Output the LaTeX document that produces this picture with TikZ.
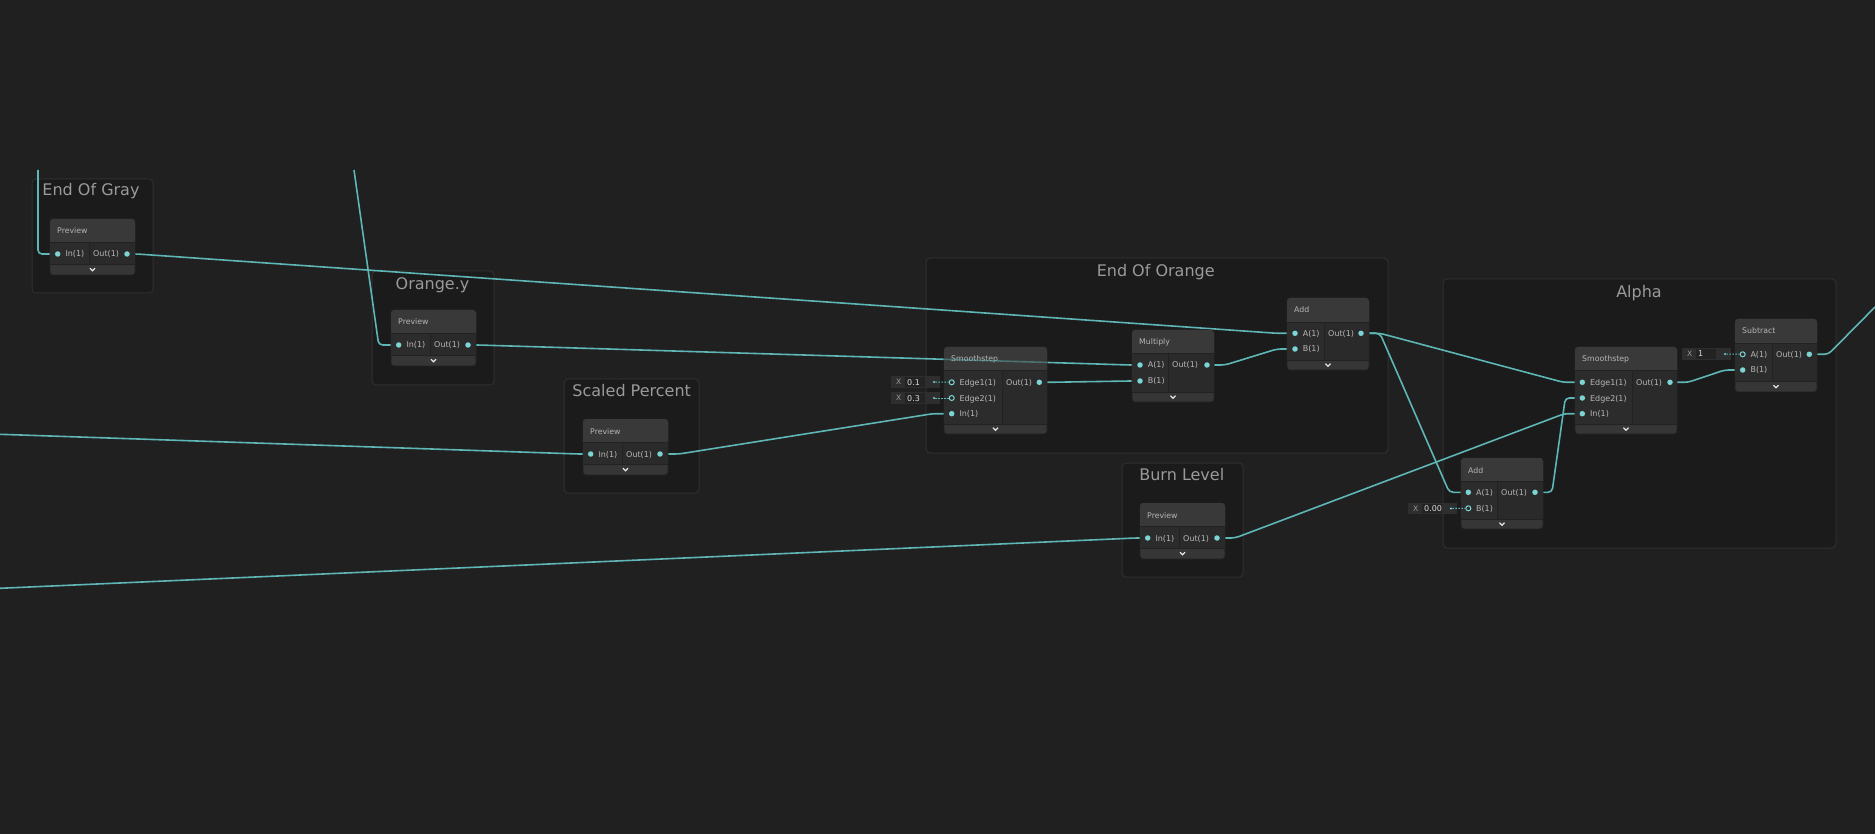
\documentclass[tikz,border=0pt]{standalone}
\usepackage{fontspec}
\setmainfont{DejaVu Sans}
\usetikzlibrary{calc}
\definecolor{bgc}{HTML}{202020}
\definecolor{grpfill}{HTML}{1B1B1B}
\definecolor{grpline}{HTML}{2F2F2F}
\definecolor{hdrc}{HTML}{393939}
\definecolor{incol}{HTML}{2C2C2C}
\definecolor{outcol}{HTML}{2A2A2A}
\definecolor{footc}{HTML}{363636}
\definecolor{sepc}{HTML}{222222}
\definecolor{wirec}{HTML}{5FB6B6}
\definecolor{portc}{HTML}{7DD4D4}
\definecolor{lbl}{HTML}{B6B6B6}
\definecolor{ttl}{HTML}{9A9A9A}
\definecolor{valbgc}{HTML}{2E2E2E}
\definecolor{valfieldc}{HTML}{232323}
\pgfdeclarelayer{back}
\pgfdeclarelayer{wires}
\pgfsetlayers{back,wires,main}
\tikzset{
 grp/.style={fill=grpfill, draw=grpline, line width=1pt, rounded corners=4pt, inner sep=0pt, outer sep=0pt},
 grptitle/.style={text=ttl, font=\fontsize{16}{18}\selectfont, inner sep=0pt, anchor=base},
 nodebox/.style={fill=footc, draw=sepc, line width=0.8pt, rounded corners=3pt, inner sep=0pt, outer sep=0pt},
 hdrtext/.style={text=lbl, font=\fontsize{7.8}{9}\selectfont, inner sep=0pt, anchor=base west},
 ptext/.style={text=lbl, font=\fontsize{8}{9}\selectfont, inner sep=0pt, anchor=base west},
 port/.style={circle, fill=portc, inner sep=0pt, minimum size=5.5pt},
 hport/.style={circle, draw=portc, fill=incol, line width=1pt, inner sep=0pt, minimum size=5pt},
 sdot/.style={circle, fill=portc, inner sep=0pt, minimum size=2.2pt},
 wire/.style={draw=wirec, line width=1.6pt, rounded corners=4pt},
 dwire/.style={draw=wirec, line width=1pt, dash pattern=on 1.5pt off 1.5pt},
 chev/.style={draw=white!90!black, line width=1.2pt},
 sepline/.style={draw=sepc, line width=0.8pt},
 valboxs/.style={fill=valbgc, inner sep=0pt, outer sep=0pt},
}
\newcommand\gbox[9]{%
 \node[nodebox, anchor=north west, minimum width={#4-#2}, minimum height={#5-#3}] (#1) at (#2,#3) {};
 \fill[hdrc, rounded corners=3pt] (#2,#3) rectangle (#4,#6+4);
 \fill[incol] (#2,#6) rectangle (#7,#8);
 \fill[outcol] (#7,#6) rectangle (#4,#8);
 \draw[sepline] (#2,#6) -- (#4,#6) (#7,#6) -- (#7,#8) (#2,#8) -- (#4,#8);
 \node[hdrtext] (#1-t) at (#2+7,#3+15) {#9};
 \draw[chev] ({(#2+#4)/2-2.5},{(#8+#5)/2-1.3}) -- ++(2.5,2.5) -- ++(2.5,-2.5);
}
\newcommand\inport[4]{%
 \node[port] (#1) at (#2,#3) {};
 \node[ptext] (#1-l) at (#2+7.6,#3+3) {#4};
}
\newcommand\hinport[4]{%
 \node[hport] (#1) at (#2,#3) {};
 \node[ptext] (#1-l) at (#2+7.6,#3+3) {#4};
}
\newcommand\outport[4]{%
 \node[port] (#1) at (#2,#3) {};
 \node[ptext] (#1-l) at (#4+4,#3+3) {Out(1)};
}
\newcommand\prevnode[3]{%
 \gbox{#1}{#2}{#3}{#2+85}{#3+56}{#3+23}{#2+39}{#3+45}{Preview}
 \inport{#1-in}{#2+7.7}{#3+35}{In(1)}
 \outport{#1-out}{#2+77}{#3+35}{#2+39}
}
\newcommand\valfield[7]{%
 \node[valboxs, anchor=north west, minimum width={#4-#2}, minimum height={#5-#3}] (#1) at (#2,#3) {};
 \node[ptext, text=ttl, font=\fontsize{7.5}{9}\selectfont, anchor=center] (#1-x) at (#2+7.6,{(#3+#5)/2}) {X};
 \fill[valfieldc] (#2+14,#3+1) rectangle (#2+34,#5-1);
 \begin{scope}
  \clip (#2+14,#3+1) rectangle (#2+34,#5-1);
  \node[ptext, text=white!85!black] (#1-v) at (#2+16,{(#3+#5)/2+3}) {#6};
 \end{scope}
 \node[sdot] (#1-d) at (#2+43,{(#3+#5)/2}) {};
 \draw[dwire] (#1-d) -- (#7);
}
\begin{document}
\begin{tikzpicture}[x=1pt,y=-1pt]
\useasboundingbox (0,0) rectangle (1875,834);
\begin{pgfonlayer}{back}
\fill[bgc] (0,0) rectangle (1875,834);
\node[grp, anchor=north west, minimum width=121, minimum height=114] (g-eog) at (32,179) {};
\node[grp, anchor=north west, minimum width=122, minimum height=114] (g-oy) at (372,271) {};
\node[grp, anchor=north west, minimum width=135, minimum height=114] (g-sp) at (564,379) {};
\node[grp, anchor=north west, minimum width=462, minimum height=195] (g-eoo) at (926,258) {};
\node[grp, anchor=north west, minimum width=121, minimum height=114] (g-bl) at (1122,463) {};
\node[grp, anchor=north west, minimum width=393, minimum height=269] (g-al) at (1443,279) {};
\node[grptitle] (g-eog-t) at (91,196) {End Of Gray};
\node[grptitle] (g-oy-t) at (432.5,289.3) {Orange.y};
\node[grptitle] (g-sp-t) at (631.7,396) {Scaled Percent};
\node[grptitle] (g-eoo-t) at (1155.7,276.7) {End Of Orange};
\node[grptitle] (g-bl-t) at (1181.8,480) {Burn Level};
\node[grptitle] (g-al-t) at (1639,297.3) {Alpha};
\end{pgfonlayer}
% preview nodes
\prevnode{eog}{50}{219}
\prevnode{oy}{391}{310}
\prevnode{sp}{583}{419}
\prevnode{bl}{1140}{503}
% End Of Orange
\gbox{ess}{944}{347}{1047}{434}{370}{1002}{424}{Smoothstep}
\hinport{ess-e1}{951.7}{382.3}{Edge1(1)}
\hinport{ess-e2}{951.7}{398}{Edge2(1)}
\inport{ess-in}{951.7}{413.7}{In(1)}
\outport{ess-out}{1039.3}{382.3}{1002}
\gbox{mul}{1132}{330}{1214}{402}{353}{1168}{392}{Multiply}
\inport{mul-a}{1140}{365}{A(1)}
\inport{mul-b}{1140}{381}{B(1)}
\outport{mul-out}{1207}{365}{1168}
\gbox{add}{1287}{298}{1369}{370}{322}{1324}{360}{Add}
\inport{add-a}{1295}{333.3}{A(1)}
\inport{add-b}{1295}{349}{B(1)}
\outport{add-out}{1361}{333.3}{1324}
% Alpha
\gbox{as}{1575}{347}{1677}{434}{370}{1632}{424}{Smoothstep}
\inport{as-e1}{1582.3}{382.3}{Edge1(1)}
\inport{as-e2}{1582.3}{398}{Edge2(1)}
\inport{as-in}{1582.3}{413.7}{In(1)}
\outport{as-out}{1670}{382.3}{1632}
\gbox{sub}{1735}{319}{1817}{392}{343}{1772}{381}{Subtract}
\hinport{sub-a}{1742.7}{354.3}{A(1)}
\inport{sub-b}{1742.7}{370}{B(1)}
\outport{sub-out}{1809.3}{354.3}{1772}
\gbox{aad}{1461}{458}{1543}{529}{481}{1497}{519}{Add}
\inport{aad-a}{1468.3}{492.3}{A(1)}
\hinport{aad-b}{1468.3}{508.3}{B(1)}
\outport{aad-out}{1535}{492.3}{1497}
% inline values
\valfield{v1}{891}{376}{940}{388}{0.1}{ess-e1}
\valfield{v2}{891}{392}{940}{404}{0.3}{ess-e2}
\valfield{v3}{1682}{348}{1731}{360}{1}{sub-a}
\valfield{v4}{1408}{503}{1457}{514}{0.00}{aad-b}
% wires
\coordinate (tl1) at (38,170);
\coordinate (tl2) at (354,170);
\coordinate (lw1) at (0,434.3);
\coordinate (lw2) at (0,588.3);
\coordinate (outR) at (1875,307);
\begin{pgfonlayer}{wires}
\draw[wire] (tl1) -- (tl1 |- eog-in) -- (eog-in.center);
\draw[wire] (tl2) -- ([xshift=-20pt]oy-in.center) -- (oy-in.center);
\draw[wire] (eog-out.center) -- ++(10,0) -- ([xshift=-18pt]add-a.center) -- (add-a.center);
\draw[wire] (oy-out.center) -- ++(10,0) -- ([xshift=-10pt]mul-a.center) -- (mul-a.center);
\draw[wire] (lw1) -- ([xshift=-12pt]sp-in.center) -- (sp-in.center);
\draw[wire] (sp-out.center) -- ++(19,0) -- ([xshift=-19pt]ess-in.center) -- (ess-in.center);
\draw[wire] (ess-out.center) -- ++(10,0) -- ([xshift=-10pt]mul-b.center) -- (mul-b.center);
\draw[wire] (mul-out.center) -- ++(18,0) -- ([xshift=-18pt]add-b.center) -- (add-b.center);
\draw[wire] (add-out.center) -- ++(19,0) -- ([xshift=-19pt]as-e1.center) -- (as-e1.center);
\draw[wire] (add-out.center) -- ++(19,0) -- ([xshift=-19pt]aad-a.center) -- (aad-a.center);
\draw[wire] (lw2) -- ([xshift=-12pt]bl-in.center) -- (bl-in.center);
\draw[wire] (bl-out.center) -- ++(18,0) -- ([xshift=-18pt]as-in.center) -- (as-in.center);
\draw[wire] (aad-out.center) -- ++(17,0) -- ([xshift=-17pt]as-e2.center) -- (as-e2.center);
\draw[wire] (as-out.center) -- ++(18,0) -- ([xshift=-18pt]sub-b.center) -- (sub-b.center);
\draw[wire] (sub-out.center) -- ++(19,0) -- (outR);
\end{pgfonlayer}
\begin{scope}
\clip (ess.north west) rectangle (ess.south east);
\draw[wire, opacity=0.45] (oy-out.center) -- ++(10,0) -- ([xshift=-10pt]mul-a.center) -- (mul-a.center);
\end{scope}
\end{tikzpicture}
\end{document}
